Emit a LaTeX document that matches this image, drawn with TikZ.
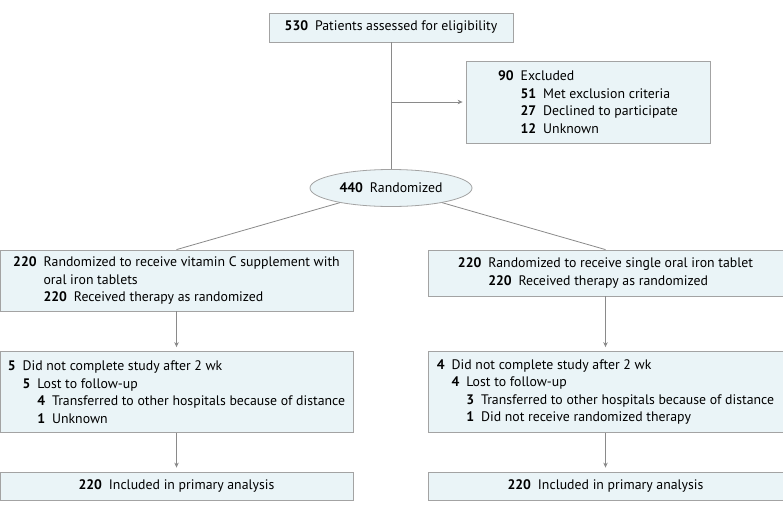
\documentclass[tikz,border=0pt]{standalone}
\usepackage{fontspec}
\usepackage{calc}
\setmainfont{PT Sans}
\usetikzlibrary{arrows.meta,shapes.geometric}

\definecolor{boxfill}{HTML}{EAF4F7}
\definecolor{boxline}{HTML}{A3A3A3}
\definecolor{linkgray}{HTML}{8A8A8A}

% bold count, then the text
\newcommand{\cnt}[1]{\textbf{#1}\enspace}
% indent as wide as a count
\newcommand{\indof}[1]{\hspace*{\widthof{\cnt{#1}}}}

\tikzset{
  flowbox/.style={draw=boxline, fill=boxfill, line width=0.8pt, align=left,
    inner sep=0pt, font=\fontsize{13.8pt}{17.6pt}\selectfont},
  flowoval/.style={flowbox, ellipse},
  link/.style={draw=linkgray, line width=0.8pt},
  arrowlink/.style={link, -{Stealth[length=5pt,width=4.5pt]}, shorten >=4pt}
}

\begin{document}
\begin{tikzpicture}[x=1pt,y=-1pt]
  \useasboundingbox (0,0) rectangle (783,514);

  % Enrollment
  \node[flowbox, minimum width=244pt, minimum height=29pt] (assessed) at (391,27.5)
    {\cnt{530}Patients assessed for eligibility};
  \node[flowbox, minimum width=244pt, minimum height=82pt] (excluded) at (588,102)
    {\cnt{90}Excluded\\
     \indof{90}\cnt{51}Met exclusion criteria\\
     \indof{90}\cnt{27}Declined to participate\\
     \indof{90}\cnt{12}Unknown};
  \node[flowoval, minimum width=162pt, minimum height=37pt] (randomized) at (391,188)
    {\cnt{440}Randomized};

  % Allocation
  \node[flowbox, minimum width=353pt, minimum height=61pt] (allocC) at (176.5,280.5)
    {\cnt{220}Randomized to receive vitamin C supplement with\\
     \indof{220}oral iron tablets\\
     \indof{220}\cnt{220}Received therapy as randomized};
  \node[flowbox, minimum width=355pt, minimum height=46pt] (allocI) at (605.5,273)
    {\cnt{220}Randomized to receive single oral iron tablet\\
     \indof{220}\cnt{220}Received therapy as randomized};

  % Follow-up
  \node[flowbox, minimum width=353pt, minimum height=81pt] (followC) at (176.5,392)
    {\cnt{5}Did not complete study after 2 wk\\
     \indof{5}\cnt{5}Lost to follow-up\\
     \indof{5}\indof{5}\cnt{4}Transferred to other hospitals because of distance\\
     \indof{5}\indof{5}\cnt{1}Unknown};
  \node[flowbox, minimum width=355pt, minimum height=81pt] (followI) at (605.5,392)
    {\cnt{4}Did not complete study after 2 wk\\
     \indof{4}\cnt{4}Lost to follow-up\\
     \indof{4}\indof{4}\cnt{3}Transferred to other hospitals because of distance\\
     \indof{4}\indof{4}\cnt{1}Did not receive randomized therapy};

  % Analysis
  \node[flowbox, minimum width=353pt, minimum height=28pt] (analysisC) at (176.5,486)
    {\cnt{220}Included in primary analysis};
  \node[flowbox, minimum width=355pt, minimum height=28pt] (analysisI) at (605.5,486)
    {\cnt{220}Included in primary analysis};

  % Connectors
  \coordinate (branch) at (391,102);
  \draw[link] (assessed) -- (randomized);
  \draw[arrowlink, shorten >=3pt] (branch) -- (excluded.west);
  \draw[link] (randomized) -- (allocC.north);
  \draw[link] (randomized) -- (allocI.north);
  \draw[arrowlink] (allocC) -- (followC);
  \draw[arrowlink] (allocI) -- (followI);
  \draw[arrowlink] (followC) -- (analysisC);
  \draw[arrowlink] (followI) -- (analysisI);
\end{tikzpicture}
\end{document}
